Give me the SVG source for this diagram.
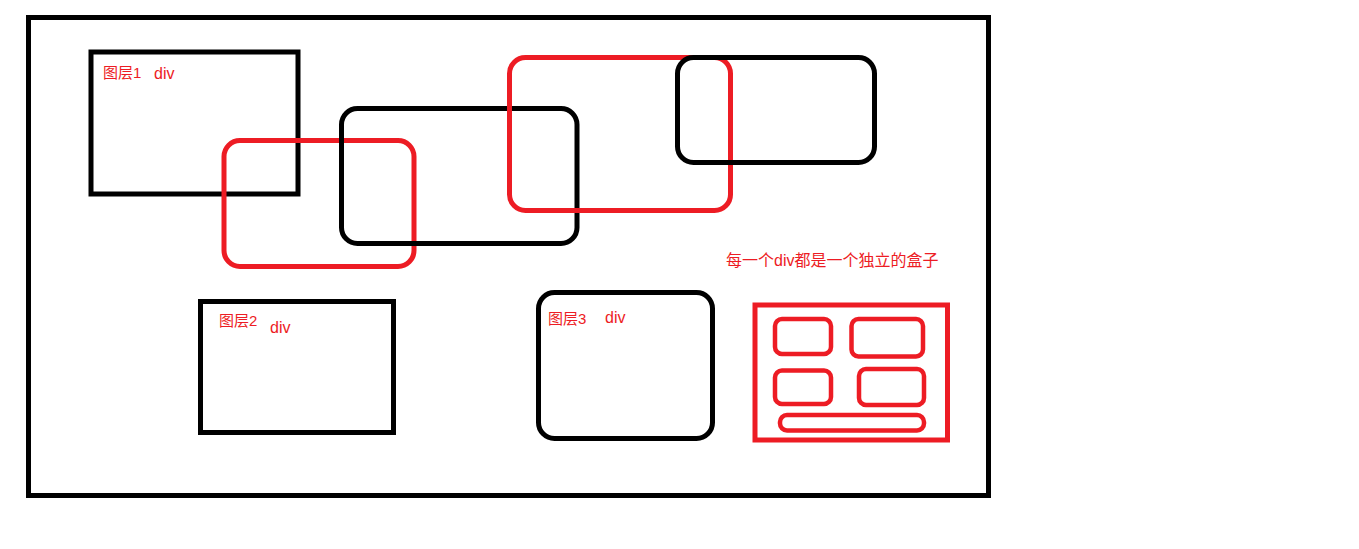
<svg xmlns="http://www.w3.org/2000/svg" width="1359" height="549" viewBox="0 0 1359 549">
<style>
.bk{fill:none;stroke:#000;stroke-width:5}
.rd{fill:none;stroke:#ED1C24;stroke-width:5}
.rs{fill:none;stroke:#ED1C24;stroke-width:4.5}
.t{fill:#ED1C24;font-family:"Liberation Sans","Noto Sans CJK SC",sans-serif;font-size:15px}
.d{fill:#ED1C24;font-family:"Liberation Sans","Noto Sans CJK SC",sans-serif;font-size:16px}
.c{fill:#ED1C24;font-family:"Liberation Sans","Noto Sans CJK SC",sans-serif;font-size:16px}
</style>
<rect x="0" y="0" width="1359" height="549" fill="#fff"/>
<g id="page"><rect class="bk" x="28.5" y="17.5" width="960" height="478"/></g>
<g id="layer1">
<rect class="bk" x="91" y="52" width="207" height="142"/>
<text class="t" x="103" y="78">图层1</text>
<text class="d" x="154" y="79">div</text>
</g>
<g id="box-red-a"><rect class="rd" x="224" y="140.5" width="190" height="126" rx="16"/></g>
<g id="box-black-a"><rect class="bk" x="341.5" y="108.5" width="235.5" height="135" rx="16"/></g>
<g id="box-red-b"><rect class="rd" x="509.5" y="57.5" width="221" height="153" rx="16"/></g>
<g id="box-black-b"><rect class="bk" x="677.5" y="57.5" width="197" height="105" rx="16"/></g>
<g id="layer2">
<rect class="bk" x="200.5" y="301.5" width="193" height="131"/>
<text class="t" x="219" y="326">图层2</text>
<text class="d" x="270" y="333">div</text>
</g>
<g id="layer3">
<rect class="bk" x="538.5" y="292.5" width="174" height="146" rx="16"/>
<text class="t" x="548" y="324">图层3</text>
<text class="d" x="605" y="323">div</text>
</g>
<g id="caption"><text class="c" x="726" y="266">每一个div都是一个独立的盒子</text></g>
<g id="box-layout">
<rect class="rd" x="755" y="305" width="192.5" height="135"/>
<rect class="rs" x="775" y="319" width="56" height="35" rx="7"/>
<rect class="rs" x="851.5" y="319" width="71.5" height="37.5" rx="7"/>
<rect class="rs" x="775" y="370.5" width="56" height="33.5" rx="7"/>
<rect class="rs" x="859" y="369" width="65" height="36" rx="7"/>
<rect class="rs" x="780" y="415" width="144" height="15.5" rx="7"/>
</g>
<g id="connectors"/>
</svg>
